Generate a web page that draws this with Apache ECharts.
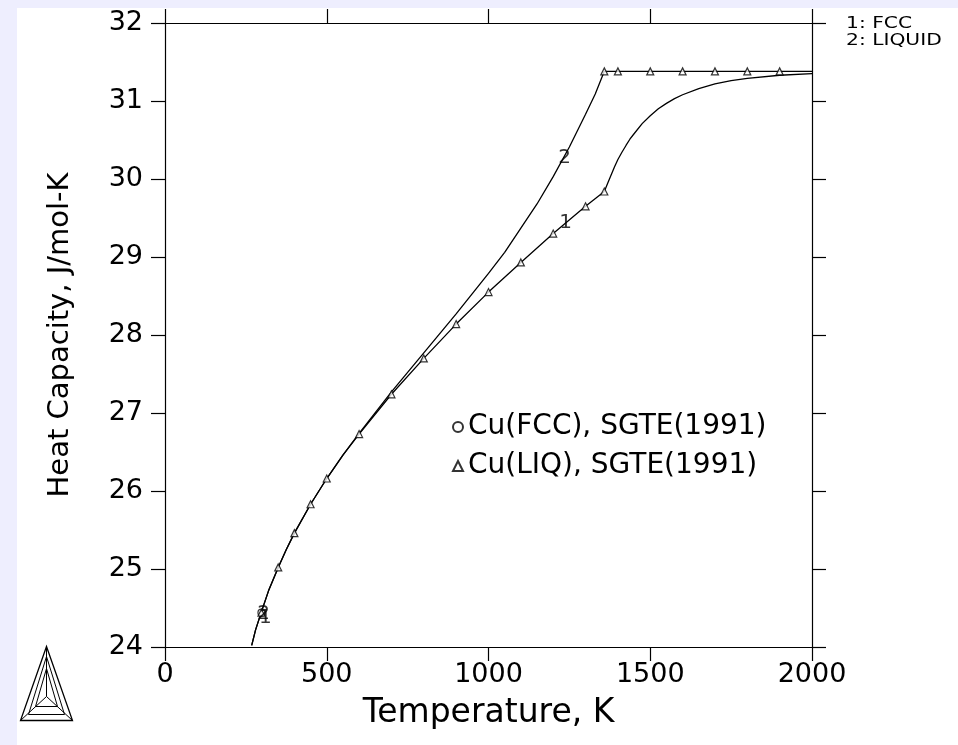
<!DOCTYPE html>
<html><head><meta charset="utf-8">
<script src="https://cdn.jsdelivr.net/npm/echarts@6/dist/echarts.min.js"></script>
<style>html,body{margin:0;padding:0;background:#eeeefe;} #c{width:958px;height:745px;}</style>
</head><body><div id="c"></div>
<script>
// Temperatures (K) and heat capacities (J/mol-K)
const fccLowT  = [268, 280, 298, 320, 350, 375, 400, 450, 500, 550, 600, 700, 800, 900, 1000, 1100, 1200, 1300, 1358];
const fccLowCp = [24.02, 24.22, 24.45, 24.72, 25.02, 25.25, 25.46, 25.83, 26.16, 26.46, 26.73, 27.24, 27.70, 28.14, 28.55, 28.93, 29.30, 29.65, 29.84];
const fccHighT  = [1358, 1370, 1380, 1390, 1400, 1412, 1425, 1437, 1450, 1475, 1500, 1525, 1550, 1575, 1600, 1650, 1700, 1750, 1800, 1900, 2000];
const fccHighCp = [29.84, 29.96, 30.06, 30.16, 30.25, 30.34, 30.43, 30.51, 30.58, 30.71, 30.81, 30.90, 30.97, 31.03, 31.08, 31.16, 31.22, 31.26, 31.29, 31.33, 31.35];
const liqLowT  = [268, 280, 298, 320, 350, 375, 400, 450, 500, 550, 600, 700, 800, 900, 1000, 1050, 1100, 1150, 1200, 1250, 1300, 1330, 1358];
const liqLowCp = [24.02, 24.22, 24.45, 24.72, 25.02, 25.25, 25.46, 25.83, 26.16, 26.46, 26.74, 27.27, 27.77, 28.27, 28.79, 29.06, 29.37, 29.68, 30.03, 30.41, 30.83, 31.09, 31.38];
const liqHighT  = [1358, 2000];
const liqHighCp = [31.38, 31.38];
// experimental points
const fccPtsT  = [298.15];
const fccPtsCp = [24.44];
const liqPtsT  = [298.15, 350, 400, 450, 500, 600, 700, 800, 900, 1000, 1100, 1200, 1300, 1358, 1358, 1400, 1500, 1600, 1700, 1800, 1900];
const liqPtsCp = [24.44, 25.02, 25.46, 25.83, 26.16, 26.73, 27.24, 27.70, 28.14, 28.55, 28.93, 29.30, 29.65, 29.84, 31.38, 31.38, 31.38, 31.38, 31.38, 31.38, 31.38];
// curve labels
const curveLabelText = ['1', '2', '1', '2'];
const curveLabelT  = [1238, 1235, 310, 305];
const curveLabelCp = [29.44, 30.27, 24.38, 24.42];
const legendNames = ['Cu(FCC), SGTE(1991)', 'Cu(LIQ), SGTE(1991)'];
const phaseKey = ['1: FCC', '2: LIQUID'];

const zip = (a, b) => a.map((v, i) => [v, b[i]]);
const FONT = 'DejaVu Sans';
const chart = echarts.init(document.getElementById('c'));
const lineStyle = {color: '#000', width: 1.3};
const lineSeries = (d) => ({type: 'line', data: d, showSymbol: false, symbol: 'none', smooth: false, lineStyle, silent: true, z: 3});
const axisCommon = {
  axisLine: {show: true, onZero: false, lineStyle: {color: '#000', width: 1.2}},
  axisTick: {show: true, length: 14, lineStyle: {color: '#000', width: 1.2}},
  splitLine: {show: false}
};
chart.setOption({
  backgroundColor: '#eeeefe',
  animation: false,
  textStyle: {fontFamily: FONT},
  graphic: [
    {type: 'rect', z: -10, shape: {x: 17, y: 8, width: 941, height: 737}, style: {fill: '#fff'}},
    {type: 'text', x: 846, y: 17, scaleX: 1.35, style: {text: phaseKey[0], font: '15px "DejaVu Sans"', fill: '#000'}},
    {type: 'text', x: 846, y: 34, scaleX: 1.35, style: {text: phaseKey[1], font: '15px "DejaVu Sans"', fill: '#000'}},
    {type: 'group', left: 18, top: 644, children: [
      {type: 'polygon', shape: {points: [[26,0],[0,74],[52,74]]}, style: {fill: 'none', stroke: '#000', lineWidth: 1.3}},
      {type: 'polygon', shape: {points: [[26,10],[8,68],[44,68]]}, style: {fill: 'none', stroke: '#000', lineWidth: 1}},
      {type: 'polygon', shape: {points: [[26,22],[15,60],[37,60]]}, style: {fill: 'none', stroke: '#000', lineWidth: 1}},
      {type: 'polyline', shape: {points: [[26,0],[26,50]]}, style: {stroke: '#000', lineWidth: 1}},
      {type: 'polyline', shape: {points: [[0,74],[26,50],[52,74]]}, style: {stroke: '#000', lineWidth: 1}}
    ]}
  ],
  grid: {left: 165, right: 146, top: 23, bottom: 98, containLabel: false},
  legend: {
    orient: 'vertical', left: 447, top: 408, itemGap: 11, itemWidth: 10, itemHeight: 10,
    data: legendNames, textStyle: {fontSize: 28, fontFamily: FONT, color: '#000'}
  },
  xAxis: [
    Object.assign({type: 'value', min: 0, max: 2000, interval: 500, position: 'bottom',
      name: 'Temperature, K', nameLocation: 'middle', nameGap: 50,
      nameTextStyle: {fontSize: 33, color: '#000', fontFamily: FONT},
      axisLabel: {color: '#000', fontSize: 27, margin: 14, fontFamily: FONT, formatter: v => String(v)}}, axisCommon),
    Object.assign({type: 'value', min: 0, max: 2000, interval: 500, position: 'top',
      axisLabel: {show: false}}, axisCommon)
  ],
  yAxis: [
    Object.assign({type: 'value', min: 24, max: 32, interval: 1, position: 'left',
      name: 'Heat Capacity, J/mol-K', nameLocation: 'middle', nameGap: 90,
      nameTextStyle: {fontSize: 29, color: '#000', fontFamily: FONT},
      axisLabel: {color: '#000', fontSize: 27, margin: 22, fontFamily: FONT, formatter: v => String(v)}}, axisCommon),
    Object.assign({type: 'value', min: 24, max: 32, interval: 1, position: 'right',
      axisLabel: {show: false}}, axisCommon)
  ],
  series: [
    lineSeries(zip(fccLowT, fccLowCp)),
    lineSeries(zip(fccHighT, fccHighCp)),
    lineSeries(zip(liqLowT, liqLowCp)),
    lineSeries(zip(liqHighT, liqHighCp)),
    {type: 'scatter', name: legendNames[0], data: zip(fccPtsT, fccPtsCp), symbol: 'circle', symbolSize: 7,
      itemStyle: {color: '#fff', borderColor: '#000', borderWidth: 1.2}, z: 5},
    {type: 'scatter', name: legendNames[1], data: zip(liqPtsT, liqPtsCp), symbol: 'triangle', symbolSize: 7,
      itemStyle: {color: '#fff', borderColor: '#000', borderWidth: 1.2}, z: 5},
    {type: 'scatter', data: curveLabelT.map((t, i) => ({value: [t, curveLabelCp[i]], name: curveLabelText[i]})),
      symbolSize: 0, silent: true, z: 6,
      label: {show: true, position: 'inside', formatter: p => p.name, color: '#000', fontSize: 20, fontFamily: FONT}}
  ]
});
</script></body></html>
